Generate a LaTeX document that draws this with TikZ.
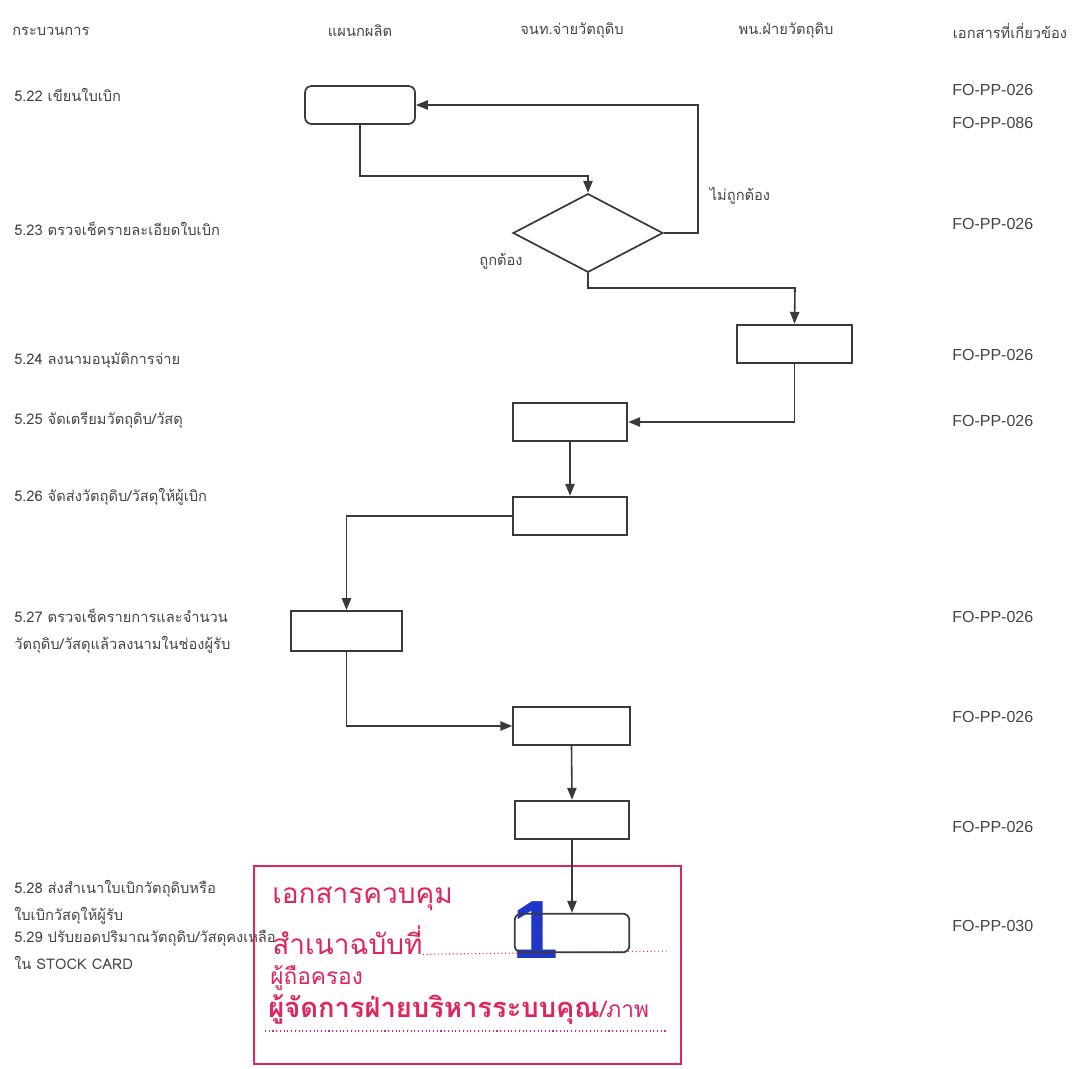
\documentclass[tikz,border=0pt]{standalone}
\usepackage{fontspec}
\setmainfont{Liberation Sans}
\newfontfamily\thai[Script=Thai]{Loma}
\usetikzlibrary{shapes.geometric,arrows.meta}
\definecolor{linec}{HTML}{3A3A3A}
\definecolor{txtc}{HTML}{444444}
\definecolor{stampred}{HTML}{E0245E}
\definecolor{stampblue}{HTML}{2036C8}
\tikzset{
  procbox/.style={draw=linec, line width=1.3pt, minimum width=86pt, minimum height=29pt, inner sep=0pt},
  roundbox/.style={procbox, rounded corners=5pt},
  decbox/.style={diamond, draw=linec, line width=1.3pt, minimum width=112.5pt, minimum height=59pt, inner sep=0pt},
  arr/.style={draw=linec, line width=1.2pt, -{Triangle[length=9pt,width=7pt]}},
  hdr/.style={font=\thai\fontsize{11}{13}\selectfont, text=txtc, inner sep=0pt},
  steptxt/.style={font=\thai\fontsize{11}{20.5}\selectfont, text=txtc, anchor=west, inner sep=0pt, align=left},
  codetxt/.style={font=\fontsize{12}{14}\selectfont, text=txtc, anchor=west, inner sep=0pt},
  lbl/.style={font=\thai\fontsize{11}{13}\selectfont, text=txtc, inner sep=0pt},
  stampbig/.style={font=\thai\fontsize{21}{24}\selectfont, text=stampred, anchor=west, inner sep=0pt},
}
\begin{document}
\begin{tikzpicture}[x=0.75pt,y=-0.75pt]
\useasboundingbox (0,0) rectangle (1088,1068);
% header
\node[hdr,anchor=west] (h1) at (12,31) {กระบวนการ};
\node[hdr] (h2) at (360,31) {แผนกผลิต};
\node[hdr] (h3) at (572,31) {จนท.จ่ายวัตถุดิบ};
\node[hdr] (h4) at (786,31) {พน.ฝ่ายวัตถุดิบ};
\node[hdr] (h5) at (1010,31) {เอกสารที่เกี่ยวข้อง};
% steps text
\node[steptxt] (s22) at (14,95) {5.22 เขียนใบเบิก};
\node[steptxt] (s23) at (14,229) {5.23 ตรวจเช็ครายละเอียดใบเบิก};
\node[steptxt] (s24) at (14,361) {5.24 ลงนามอนุมัติการจ่าย};
\node[steptxt] (s25) at (14,420) {5.25 จัดเตรียมวัตถุดิบ/วัสดุ};
\node[steptxt] (s26) at (14,497) {5.26 จัดส่งวัตถุดิบ/วัสดุให้ผู้เบิก};
\node[steptxt] (s27) at (14,631) {5.27 ตรวจเช็ครายการและจำนวน\\วัตถุดิบ/วัสดุแล้วลงนามในช่องผู้รับ};
\node[steptxt] (s28) at (14,902) {5.28 ส่งสำเนาใบเบิกวัตถุดิบหรือ\\ใบเบิกวัสดุให้ผู้รับ};
\node[steptxt] (s29) at (14,950) {5.29 ปรับยอดปริมาณวัตถุดิบ/วัสดุคงเหลือ\\ใน STOCK CARD};
% codes
\node[codetxt] (c1) at (952,90) {FO-PP-026};
\node[codetxt] (c2) at (952,123) {FO-PP-086};
\node[codetxt] (c3) at (952,224) {FO-PP-026};
\node[codetxt] (c4) at (952,355) {FO-PP-026};
\node[codetxt] (c5) at (952,421) {FO-PP-026};
\node[codetxt] (c6) at (952,617) {FO-PP-026};
\node[codetxt] (c7) at (952,717) {FO-PP-026};
\node[codetxt] (c8) at (952,827) {FO-PP-026};
\node[codetxt] (c9) at (952,926) {FO-PP-030};
% stamp
\draw[stampred, line width=1.3pt] (254,866) rectangle (681,1064);
\node[font=\fontsize{62}{62}\selectfont\bfseries\rmfamily, text=stampblue, inner sep=0pt] (one) at (535,930) {1};
\node[stampbig] (st1) at (272,899) {เอกสารควบคุม};
\node[stampbig] (st2) at (272,940) {สำเนาฉบับที่};
\coordinate (dl0) at (668,951);
\draw[stampred, line width=0.8pt, dotted] (st2.base east) -- (dl0);
\node[stampbig, font=\thai\fontsize{17}{20}\selectfont] (st3) at (270,978) {ผู้ถือครอง};
\node[stampbig, font=\thai\bfseries\fontsize{20.5}{24}\selectfont] (st4) at (268,1010) {ผู้จัดการฝ่ายบริหารระบบคุณ\textmd{\fontsize{17}{20}\selectfont/ภาพ}};
\coordinate (dl1) at (265,1031);
\coordinate (dl2) at (668,1031);
\draw[stampred, line width=0.8pt, dotted] (dl1) -- (dl2);
% flow nodes
\node[roundbox, minimum width=82.5pt, minimum height=28.5pt] (b1) at (360,105) {};
\node[decbox] (d) at (588,233) {};
\node[procbox] (b3) at (794.5,344) {};
\node[procbox] (b4) at (570,422) {};
\node[procbox] (b5) at (570,516) {};
\node[procbox, minimum width=83pt, minimum height=30pt] (b6) at (346.5,631) {};
\node[procbox, minimum width=87.5pt] (b7) at (571.5,726) {};
\node[procbox] (b8) at (572,820) {};
\node[roundbox] (b9) at (572,933) {};
% labels
\node[lbl] (no) at (740,196) {ไม่ถูกต้อง};
\node[lbl] (yes) at (501,261) {ถูกต้อง};
% connectors
\coordinate (j1) at (588,176);
\coordinate (j2) at (698,233);
\coordinate (j3) at (795,288);
\draw[arr] (b1.south) |- (j1) -- (d.north);
\draw[arr] (d.east) -- (j2) |- (b1.east);
\draw[arr] (d.south) |- (j3) -- (b3.north);
\draw[arr] (b3.south) |- (b4.east);
\draw[arr] (b4.south) -- (b5.north);
\draw[arr] (b5.west) -| (b6.north);
\draw[arr] (b6.south) |- (b7.west);
\draw[arr] (b7.south) -- (b8.north);
\draw[arr] (b8.south) -- (b9.north);
\end{tikzpicture}
\end{document}
